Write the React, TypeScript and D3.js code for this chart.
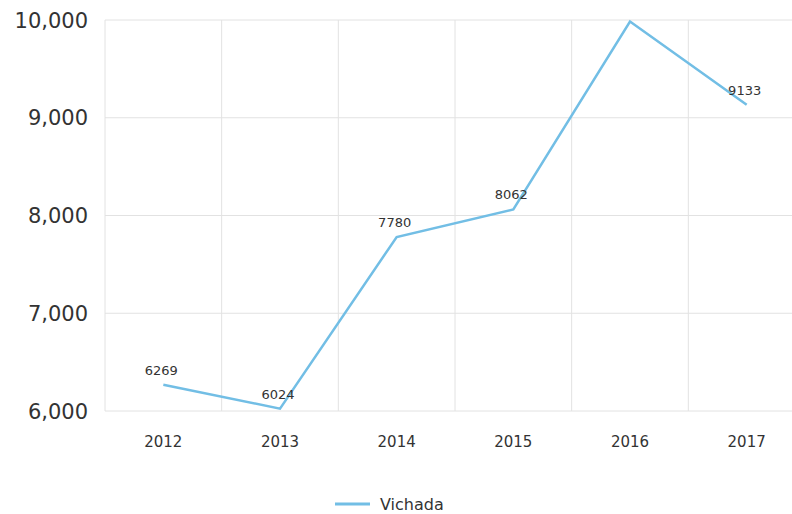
import React, { useEffect, useRef } from 'react';
import * as d3 from 'd3';

const years = ['2012', '2013', '2014', '2015', '2016', '2017'];
const values = [6269, 6024, 7780, 8062, 9985, 9133];
const yTicks = [6000, 7000, 8000, 9000, 10000];
const seriesName = 'Vichada';

const W = 792;
const H = 514;
const margin = { top: 20, right: -13, bottom: 103, left: 105 };
const FONT = '"DejaVu Sans", sans-serif';
const LINE_COLOR = '#72bee5';

function drawChart(node: SVGSVGElement) {
  const svg = d3.select(node);
  svg.selectAll('*').remove();

  const x = d3.scaleBand<string>()
    .domain(years)
    .range([margin.left, W - margin.right])
    .paddingInner(0)
    .paddingOuter(0);

  const y = d3.scaleLinear()
    .domain([6000, 10000])
    .range([H - margin.bottom, margin.top]);

  svg.append('defs').append('clipPath')
    .attr('id', 'plot-clip')
    .append('rect')
    .attr('x', margin.left)
    .attr('y', margin.top)
    .attr('width', W - margin.right - margin.left)
    .attr('height', H - margin.bottom - margin.top);

  // horizontal grid
  svg.append('g')
    .selectAll('line')
    .data(yTicks)
    .enter().append('line')
    .attr('x1', margin.left)
    .attr('x2', W - margin.right)
    .attr('y1', d => y(d))
    .attr('y2', d => y(d))
    .attr('stroke', '#e2e2e2')
    .attr('stroke-width', 1);

  // vertical grid at band edges
  const edges = years.map(d => x(d) as number).concat([W - margin.right]);
  svg.append('g')
    .selectAll('line')
    .data(edges)
    .enter().append('line')
    .attr('x1', d => d)
    .attr('x2', d => d)
    .attr('y1', margin.top)
    .attr('y2', H - margin.bottom)
    .attr('stroke', '#e2e2e2')
    .attr('stroke-width', 1);

  // y labels
  svg.append('g')
    .selectAll('text')
    .data(yTicks)
    .enter().append('text')
    .attr('x', 88)
    .attr('y', d => y(d))
    .attr('dy', '0.36em')
    .attr('text-anchor', 'end')
    .style('font-family', FONT)
    .style('font-size', '21px')
    .style('fill', '#333')
    .text(d => d3.format(',')(d));

  // x labels
  svg.append('g')
    .selectAll('text')
    .data(years)
    .enter().append('text')
    .attr('x', d => (x(d) as number) + x.bandwidth() / 2)
    .attr('y', H - margin.bottom + 36)
    .attr('text-anchor', 'middle')
    .style('font-family', FONT)
    .style('font-size', '15px')
    .style('fill', '#333')
    .text(d => d);

  const cx = (i: number) => (x(years[i]) as number) + x.bandwidth() / 2;

  const line = d3.line<number>()
    .x((d, i) => cx(i))
    .y(d => y(d));

  svg.append('path')
    .datum(values)
    .attr('d', line)
    .attr('fill', 'none')
    .attr('stroke', LINE_COLOR)
    .attr('stroke-width', 2.5)
    .attr('stroke-linejoin', 'miter');

  // value labels
  svg.append('g')
    .attr('clip-path', 'url(#plot-clip)')
    .selectAll('text')
    .data(values)
    .enter().append('text')
    .attr('x', (d, i) => cx(i) - 2)
    .attr('y', d => y(d) - 10)
    .attr('text-anchor', 'middle')
    .style('font-family', FONT)
    .style('font-size', '13px')
    .style('fill', '#333')
    .text(d => String(d));

  // legend
  const legend = svg.append('g').attr('transform', `translate(335,504)`);
  legend.append('line')
    .attr('x1', 0)
    .attr('x2', 35)
    .attr('y1', 0)
    .attr('y2', 0)
    .attr('stroke', LINE_COLOR)
    .attr('stroke-width', 3);
  legend.append('text')
    .attr('x', 45)
    .attr('y', 6)
    .style('font-family', FONT)
    .style('font-size', '16px')
    .style('fill', '#333')
    .text(seriesName);
}

export default function App() {
  const ref = useRef<SVGSVGElement>(null);
  useEffect(() => {
    if (ref.current) drawChart(ref.current);
  }, []);
  return (
    <div style={{ position: 'absolute', left: 0, top: 0, background: '#fff' }}>
      <svg ref={ref} width={W} height={H} style={{ display: 'block' }} />
    </div>
  );
}
